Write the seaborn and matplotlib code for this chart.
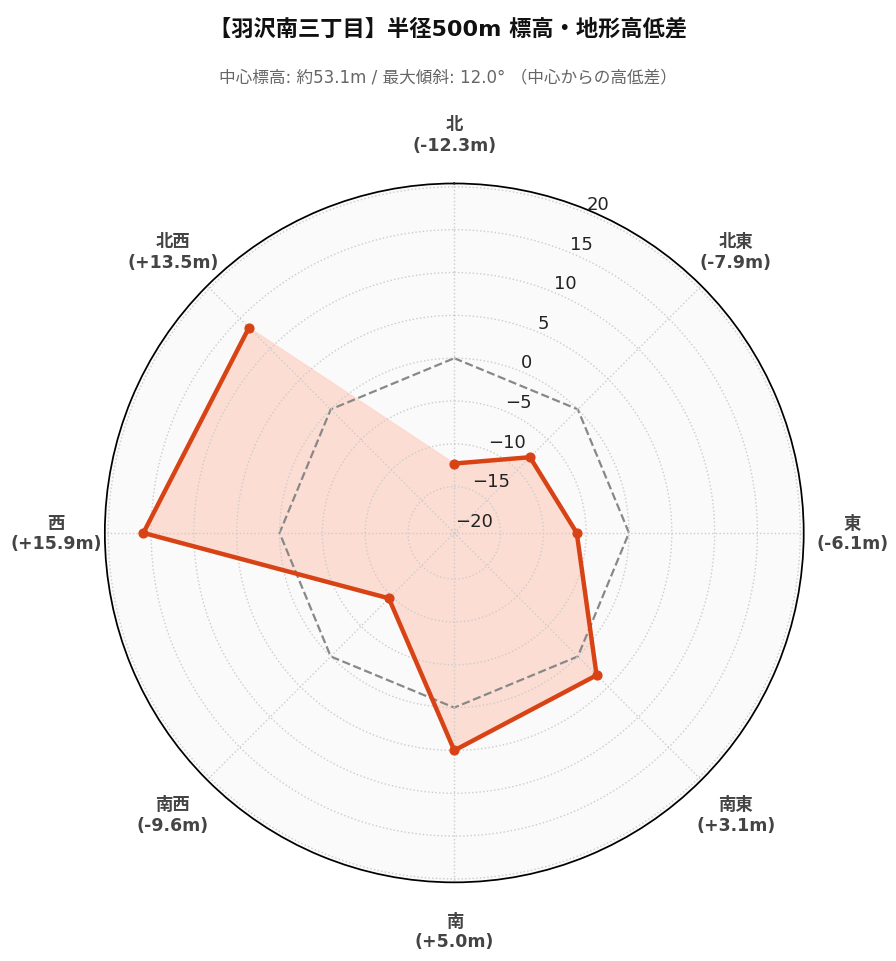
import numpy as np
import matplotlib
matplotlib.use("Agg")
import matplotlib.pyplot as plt
import seaborn as sns

sns.set_theme(style="white")
plt.rcParams['font.family'] = ['DejaVu Sans', 'Noto Sans CJK JP']

directions = ["北", "北東", "東", "南東", "南", "南西", "西", "北西"]
values = [-12.3, -7.9, -6.1, 3.1, 5.0, -9.6, 15.9, 13.5]
rticks = [-20, -15, -10, -5, 0, 5, 10, 15, 20]

fig = plt.figure(figsize=(8.96, 9.62), dpi=100)
ax = fig.add_axes([0.117, 0.08, 0.78, 0.73], projection="polar")
ax.set_theta_zero_location("N")
ax.set_theta_direction(-1)
ax.set_facecolor("#fafafa")
ax.set_ylim(-20.4, 20.4)

theta = np.deg2rad(np.arange(len(directions)) * 45.0)
tc = np.append(theta, theta[0])
vc = np.append(values, values[0])

ax.plot(tc, np.zeros_like(tc), ls="--", color="#888888", lw=1.6, zorder=2)
ax.fill(tc, vc, color="#fdd8cd", alpha=0.85, zorder=1.5)
sns.lineplot(x=tc, y=vc, sort=False, ax=ax, color="#d84315", lw=3.2, zorder=4)
ax.scatter(theta, values, color="#d84315", s=40, zorder=5)

ax.set_xticks(theta)
ax.set_xticklabels([f"{d}\n({v:+.1f}m)" for d, v in zip(directions, values)],
                   fontsize=12.5, fontweight="bold", color="#444444")
ax.tick_params(axis="x", pad=22)
ax.set_yticks(rticks)
ax.set_yticklabels([str(t).replace("-", "−") for t in rticks], fontsize=13, color="#222222")
for lab in ax.get_yticklabels():
    lab.set_zorder(10)
ax.set_rlabel_position(22.5)
ax.grid(True, ls=":", color="#cccccc", lw=1)
ax.set_axisbelow(False)
ax.spines["polar"].set_color("black")
ax.set_xlabel(""); ax.set_ylabel("")

fig.text(0.5, 0.97, "【羽沢南三丁目】半径500m 標高・地形高低差", ha="center", va="center",
         fontsize=16, fontweight="bold", color="#111111")
fig.text(0.5, 0.92, "中心標高: 約53.1m / 最大傾斜: 12.0° （中心からの高低差）", ha="center",
         va="center", fontsize=12, color="#666666")
fig.savefig("out.png", dpi=100)
